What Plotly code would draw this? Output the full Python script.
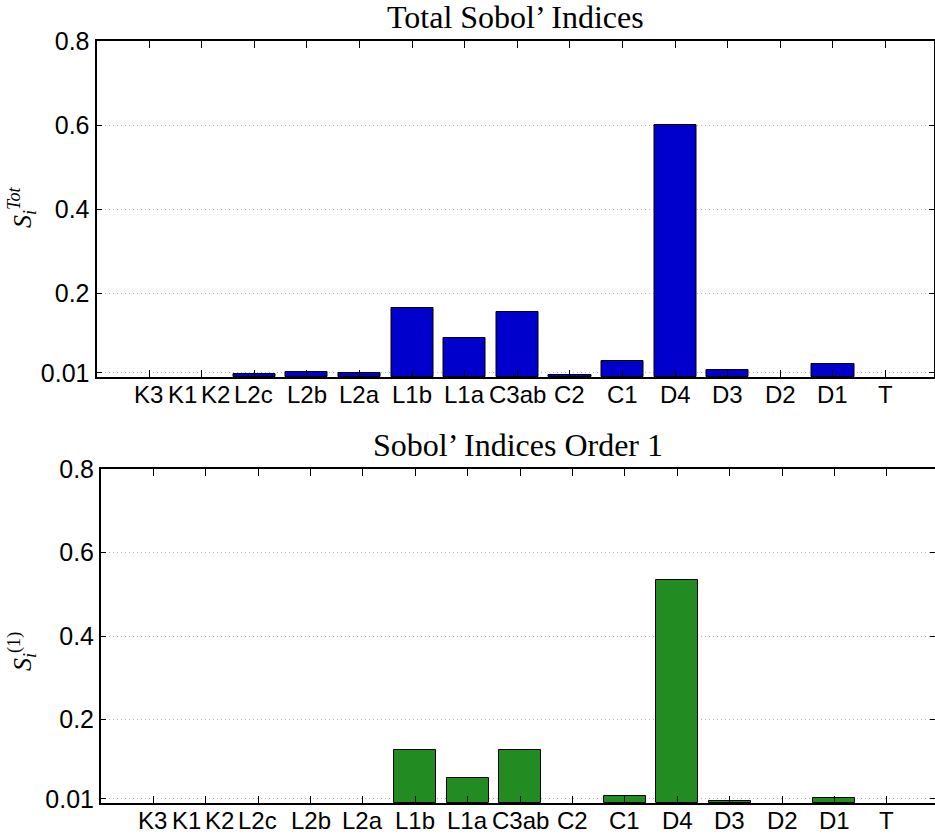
import plotly.graph_objects as go

# ---- data ----
categories = ["K3", "K1", "K2", "L2c", "L2b", "L2a", "L1b", "L1a",
              "C3ab", "C2", "C1", "D4", "D3", "D2", "D1", "T"]
total_indices = [0.0, 0.0, 0.0, 0.007, 0.0125, 0.0095, 0.164, 0.094,
                 0.154, 0.004, 0.038, 0.601, 0.017, 0.0, 0.030, 0.0]
first_order = [0.0, 0.0, 0.0, 0.0, 0.0, 0.0, 0.126, 0.061,
               0.126, 0.0, 0.016, 0.533, 0.004, 0.0, 0.0115, 0.0]
ytick_vals = [0.01, 0.2, 0.4, 0.6, 0.8]
ytick_text = ["0.01", "0.2", "0.4", "0.6", "0.8"]
title_top = "Total Sobol\u2019 Indices"
title_bottom = "Sobol\u2019 Indices Order 1"

# ---- layout constants ----
W, H = 935, 838
# label placement (index units); first labels are squeezed as in the original
label_pos = [0.99, 1.63, 2.26, 2.98] + list(range(4, len(categories)))
x_index = list(range(len(categories)))
XR = [0.0, 15.92]

def px_x(p):
    return p / W

def px_y(p):
    return 1 - p / H

top_dom_x = [px_x(96.5), px_x(934)]
top_dom_y = [px_y(377), px_y(41)]
bot_dom_x = [px_x(101), px_x(935)]
bot_dom_y = [px_y(803), px_y(469)]

def outline(vals):
    return [1 if v > 0 else 0 for v in vals]

fig = go.Figure()
fig.add_trace(go.Bar(x=x_index, y=total_indices, width=0.8,
                     marker=dict(color="rgb(0,0,204)",
                                 line=dict(color="black", width=outline(total_indices))),
                     xaxis="x", yaxis="y", showlegend=False))
fig.add_trace(go.Bar(x=x_index, y=first_order, width=0.8,
                     marker=dict(color="rgb(34,139,34)",
                                 line=dict(color="black", width=outline(first_order))),
                     xaxis="x2", yaxis="y2", showlegend=False))

xcommon = dict(range=XR, tickvals=x_index, showticklabels=False, ticks="inside",
               ticklen=7, tickwidth=1, tickcolor="black", showline=True, linecolor="black",
               linewidth=2, mirror="ticks", showgrid=False, zeroline=False, fixedrange=True)
ycommon = dict(range=[0, 0.8], tickvals=ytick_vals, ticktext=ytick_text, ticks="inside",
               ticklen=5, tickwidth=1, tickcolor="black", showline=True, linecolor="black",
               linewidth=2, mirror="ticks", showgrid=True, gridcolor="#b4b4b4",
               griddash="1px,3px", gridwidth=1, zeroline=False,
               tickfont=dict(family="Liberation Sans, Arial", size=25, color="black"),
               fixedrange=True)

fig.update_layout(
    width=W, height=H, margin=dict(l=0, r=0, t=0, b=0),
    template="none", plot_bgcolor="white", paper_bgcolor="white", bargap=0,
    xaxis=dict(domain=top_dom_x, anchor="y", **xcommon),
    yaxis=dict(domain=top_dom_y, anchor="x", **ycommon),
    xaxis2=dict(domain=bot_dom_x, anchor="y2", **xcommon),
    yaxis2=dict(domain=bot_dom_y, anchor="x2", **ycommon),
)

ann = []
lab_font = dict(family="Liberation Sans, Arial", size=24, color="black")
for p, t in zip(label_pos, categories):
    ann.append(dict(x=p, y=px_y(379), xref="x", yref="paper", text=t, showarrow=False,
                    xanchor="center", yanchor="top", font=lab_font))
    ann.append(dict(x=p, y=px_y(805), xref="x2", yref="paper", text=t, showarrow=False,
                    xanchor="center", yanchor="top", font=lab_font))

serif = dict(family="Liberation Serif, Times New Roman", size=32, color="black")
ann.append(dict(x=px_x(515), y=px_y(17), xref="paper", yref="paper", text=title_top,
                showarrow=False, xanchor="center", yanchor="middle", font=serif))
ann.append(dict(x=px_x(518), y=px_y(445), xref="paper", yref="paper", text=title_bottom,
                showarrow=False, xanchor="center", yanchor="middle", font=serif))

yt_font = dict(family="Liberation Serif, Times New Roman", size=26, color="black")
ann.append(dict(x=px_x(22), y=px_y(207), xref="paper", yref="paper",
                text="<i>S</i><sub><i>i</i></sub><sup><i>Tot</i></sup>",
                showarrow=False, textangle=-90, xanchor="center", yanchor="middle", font=yt_font))
ann.append(dict(x=px_x(22), y=px_y(652), xref="paper", yref="paper",
                text="<i>S</i><sub><i>i</i></sub><sup>(1)</sup>",
                showarrow=False, textangle=-90, xanchor="center", yanchor="middle", font=yt_font))
fig.update_layout(annotations=ann)

fig.write_html("out.html", config={"displayModeBar": False},
               post_script="document.body.style.margin='0';document.body.style.overflow='hidden';")
